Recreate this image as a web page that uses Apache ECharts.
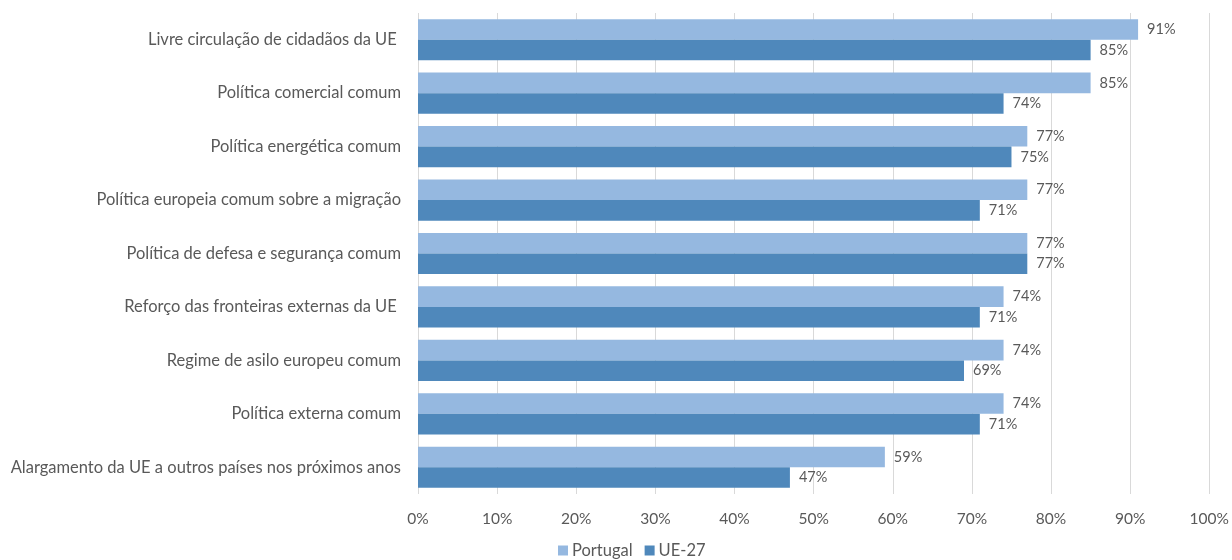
<!DOCTYPE html>
<html>
<head>
<meta charset="utf-8">
<script src="https://cdn.jsdelivr.net/npm/echarts@6/dist/echarts.min.js"></script>
<style>
  html, body { margin: 0; padding: 0; background: #fff; }
  #chart { width: 1232px; height: 560px; }
</style>
</head>
<body>
<div id="chart"></div>
<script>
// Categories listed bottom-to-top (ECharts category y-axis starts at the bottom)
const categories = [
  'Alargamento da UE a outros países nos próximos anos',
  'Política externa comum',
  'Regime de asilo europeu comum',
  'Reforço das fronteiras externas da UE ',
  'Política de defesa e segurança comum',
  'Política europeia comum sobre a migração',
  'Política energética comum',
  'Política comercial comum',
  'Livre circulação de cidadãos da UE '
];
const portugal = [59, 74, 74, 74, 77, 77, 77, 85, 91];
const ue27 = [47, 71, 69, 71, 77, 71, 75, 74, 85];
const xTicks = [0, 10, 20, 30, 40, 50, 60, 70, 80, 90, 100];

const FONT = 'Lato';
const TEXT = '#595959';

const valueLabel = {
  show: true, position: 'right', distance: 9, color: TEXT, fontSize: 14.5,
  formatter: p => p.value + '%'
};

const chart = echarts.init(document.getElementById('chart'));
chart.setOption({
  animation: false,
  textStyle: { fontFamily: FONT },
  grid: { left: 418, right: 20, top: 13, bottom: 66, containLabel: false },
  legend: {
    top: 537,
    left: 553,
    itemWidth: 10,
    itemHeight: 10,
    itemGap: 12,
    icon: 'rect',
    textStyle: { color: TEXT, fontSize: 16.5, fontFamily: FONT, padding: [0, 0, 0, -1] },
    data: ['Portugal', 'UE-27']
  },
  xAxis: {
    type: 'value',
    min: xTicks[0],
    max: xTicks[xTicks.length - 1],
    interval: 10,
    axisLine: { show: false },
    axisTick: { show: false },
    splitLine: { show: true, lineStyle: { color: '#d9d9d9', width: 1 } },
    axisLabel: { color: TEXT, fontSize: 15.5, margin: 17, formatter: v => v + '%' }
  },
  yAxis: {
    type: 'category',
    data: categories,
    axisLine: { show: false },
    axisTick: { show: false },
    axisLabel: { color: TEXT, fontSize: 16.5, margin: 17 }
  },
  series: [
    {
      name: 'Portugal',
      type: 'bar',
      data: portugal,
      barGap: '0%',
      barCategoryGap: '23%',
      itemStyle: { color: '#95b8e0' },
      label: valueLabel
    },
    {
      name: 'UE-27',
      type: 'bar',
      data: ue27,
      barGap: '0%',
      barCategoryGap: '23%',
      itemStyle: { color: '#4f88bb' },
      label: valueLabel
    }
  ]
});
</script>
</body>
</html>
